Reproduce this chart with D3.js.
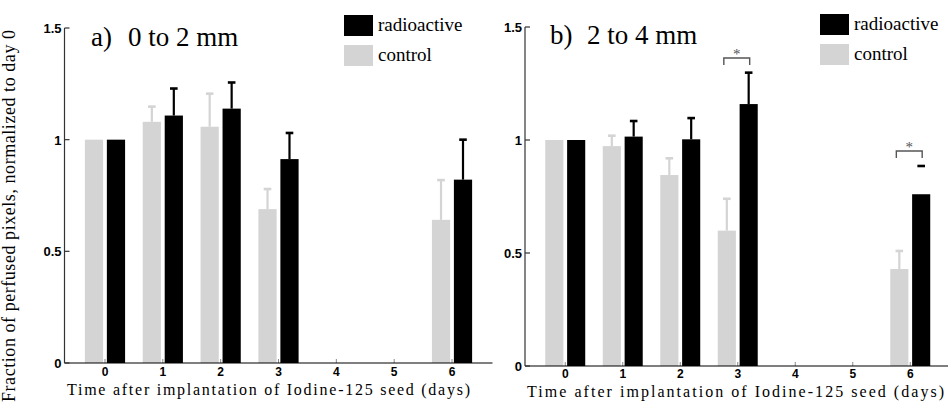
<!DOCTYPE html>
<html>
<head>
<meta charset="utf-8">
<script src="https://cdn.jsdelivr.net/npm/d3@7"></script>
<style>
  body { margin: 0; background: #fff; }
  svg { display: block; }
  text { font-family: "Liberation Serif", "Times New Roman", serif; }
  .tick-label { font-family: "Liberation Sans", Arial, sans-serif; font-weight: bold; }
</style>
</head>
<body>
<svg id="chart" width="948" height="409"></svg>
<script>
// Data
const days = [0, 1, 2, 3, 6];
const dayTicks = [0, 1, 2, 3, 4, 5, 6];
const yTicks = [0, 0.5, 1, 1.5];
const yTickLabels = ['0', '0.5', '1', '1.5'];

// panel a) 0 to 2 mm
const aControl = [1.0, 1.08, 1.058, 0.689, 0.641];
const aControlErr = [0, 0.068, 0.148, 0.09, 0.178];
const aRadio = [1.0, 1.108, 1.139, 0.913, 0.821];
const aRadioErr = [0, 0.121, 0.117, 0.117, 0.179];

// panel b) 2 to 4 mm
const bControl = [1.0, 0.973, 0.845, 0.599, 0.429];
const bControlErr = [0, 0.046, 0.074, 0.141, 0.08];
const bRadio = [1.0, 1.015, 1.003, 1.159, 0.76];
const bRadioErr = [0, 0.069, 0.094, 0.139, 0.125];
const bRadioStemHidden = [false, false, false, false, true];
// significance brackets (day, bracket height)
const bSignif = [{ day: 3, y: 1.363 }, { day: 6, y: 0.951 }];

const seriesNames = ['radioactive', 'control'];
const CONTROL_COLOR = '#d4d4d4';
const RADIO_COLOR = '#000';

const svg = d3.select('#chart');

function drawPanel(cfg) {
  const x = d3.scaleLinear().domain([-0.7, 6.7]).range(cfg.xRange);
  const y = d3.scaleLinear().domain([0, 1.5]).range(cfg.yRange);
  const unit = x(1) - x(0);
  const barW = 0.315 * unit;
  const off = 0.19 * unit;
  const g = svg.append('g');

  // x ticks (inward, light)
  g.selectAll('.xtick').data(dayTicks).enter().append('line')
    .attr('x1', d => x(d)).attr('x2', d => x(d))
    .attr('y1', y(0)).attr('y2', y(0) - 4)
    .attr('stroke', '#888').attr('stroke-width', 1);

  const rows = days.map((d, i) => ({
    day: d,
    control: cfg.control[i], controlErr: cfg.controlErr[i],
    radio: cfg.radio[i], radioErr: cfg.radioErr[i],
    stemHidden: cfg.stemHidden ? cfg.stemHidden[i] : false
  }));

  // bars
  g.selectAll('.cbar').data(rows).enter().append('rect')
    .attr('x', d => x(d.day) - off - barW / 2)
    .attr('width', barW)
    .attr('y', d => y(d.control))
    .attr('height', d => y(0) - y(d.control))
    .attr('fill', CONTROL_COLOR);
  g.selectAll('.rbar').data(rows).enter().append('rect')
    .attr('x', d => x(d.day) + off - barW / 2)
    .attr('width', barW)
    .attr('y', d => y(d.radio))
    .attr('height', d => y(0) - y(d.radio))
    .attr('fill', RADIO_COLOR);

  // error bars
  function errBars(key, errKey, shift, color) {
    const data = rows.filter(d => d[errKey] > 0);
    data.forEach(d => {
      const cx = x(d.day) + shift;
      const top = y(d[key] + d[errKey]);
      if (!(key === 'radio' && d.stemHidden)) {
        g.append('line')
          .attr('x1', cx).attr('x2', cx)
          .attr('y1', y(d[key])).attr('y2', top)
          .attr('stroke', color).attr('stroke-width', 2.2);
      }
      g.append('line')
        .attr('x1', cx - 3.8).attr('x2', cx + 3.8)
        .attr('y1', top).attr('y2', top)
        .attr('stroke', color).attr('stroke-width', 2.6);
    });
  }
  errBars('control', 'controlErr', -off, CONTROL_COLOR);
  errBars('radio', 'radioErr', off, RADIO_COLOR);

  // significance brackets
  (cfg.signif || []).forEach(s => {
    const x1 = x(s.day) - off - 3;
    const x2 = x(s.day) + off + 1;
    const yy = y(s.y);
    g.append('path')
      .attr('d', `M ${x1} ${yy + 7} V ${yy} H ${x2} V ${yy + 7}`)
      .attr('fill', 'none').attr('stroke', '#555').attr('stroke-width', 1.4);
    g.append('text')
      .attr('x', (x1 + x2) / 2).attr('y', yy + 1)
      .attr('text-anchor', 'middle')
      .attr('font-size', 15).attr('fill', '#555')
      .text('*');
  });

  // axes
  g.append('line')
    .attr('x1', x(-0.7)).attr('x2', x(6.7))
    .attr('y1', y(0)).attr('y2', y(0))
    .attr('stroke', '#000').attr('stroke-width', 1.2);
  g.append('line')
    .attr('x1', x(-0.7)).attr('x2', x(-0.7))
    .attr('y1', y(0)).attr('y2', y(1.5))
    .attr('stroke', '#333').attr('stroke-width', 1.2);
  g.selectAll('.ytick').data(yTicks).enter().append('line')
    .attr('x1', x(-0.7)).attr('x2', x(-0.7) + 5)
    .attr('y1', d => y(d)).attr('y2', d => y(d))
    .attr('stroke', '#333').attr('stroke-width', 1.2);
  g.selectAll('.ylab').data(yTicks).enter().append('text')
    .attr('class', 'tick-label')
    .attr('x', x(-0.7) - 3)
    .attr('y', d => y(d) + 5)
    .attr('text-anchor', 'end')
    .attr('font-size', 13)
    .text((d, i) => yTickLabels[i]);
  g.selectAll('.xlab').data(dayTicks).enter().append('text')
    .attr('class', 'tick-label')
    .attr('x', d => x(d))
    .attr('y', cfg.xTitle[2] - 19)
    .attr('text-anchor', 'middle')
    .attr('font-size', 12)
    .text(d => d);

  // x title
  g.append('text')
    .attr('x', cfg.xTitle[0]).attr('y', cfg.xTitle[2])
    .attr('font-size', 16)
    .attr('textLength', cfg.xTitle[1] - cfg.xTitle[0])
    .attr('lengthAdjust', 'spacing')
    .text('Time after implantation of Iodine-125 seed (days)');

  // panel title
  g.append('text').attr('x', cfg.title[0]).attr('y', cfg.title[1])
    .attr('font-size', 27).text(cfg.label);
  g.append('text').attr('x', cfg.title[0] + 37).attr('y', cfg.title[1])
    .attr('font-size', 27).text(cfg.range);

  // legend
  const lg = g.append('g').attr('transform', `translate(${cfg.legend[0]},${cfg.legend[1]})`);
  [RADIO_COLOR, CONTROL_COLOR].forEach((c, i) => {
    lg.append('rect').attr('x', 0).attr('y', i * 30).attr('width', 29).attr('height', 21).attr('fill', c);
    lg.append('text').attr('x', 34).attr('y', i * 30 + 16).attr('font-size', 19).text(seriesNames[i]);
  });
}

drawPanel({
  xRange: [64.5, 492.5], yRange: [363, 28],
  control: aControl, controlErr: aControlErr,
  radio: aRadio, radioErr: aRadioErr,
  xTitle: [67, 470, 395],
  title: [91, 46], label: 'a)', range: '0 to 2 mm',
  legend: [344, 15]
});

drawPanel({
  xRange: [525, 950.5], yRange: [366, 27],
  control: bControl, controlErr: bControlErr,
  radio: bRadio, radioErr: bRadioErr, stemHidden: bRadioStemHidden,
  signif: bSignif,
  xTitle: [527, 944, 397],
  title: [550, 44], label: 'b)', range: '2 to 4 mm',
  legend: [820, 14]
});

// y axis title
svg.append('text')
  .attr('transform', 'translate(15,402) rotate(-90)')
  .attr('font-size', 18)
  .attr('textLength', 372)
  .attr('lengthAdjust', 'spacing')
  .text('Fraction of perfused pixels, normalized to day 0');
</script>
</body>
</html>
